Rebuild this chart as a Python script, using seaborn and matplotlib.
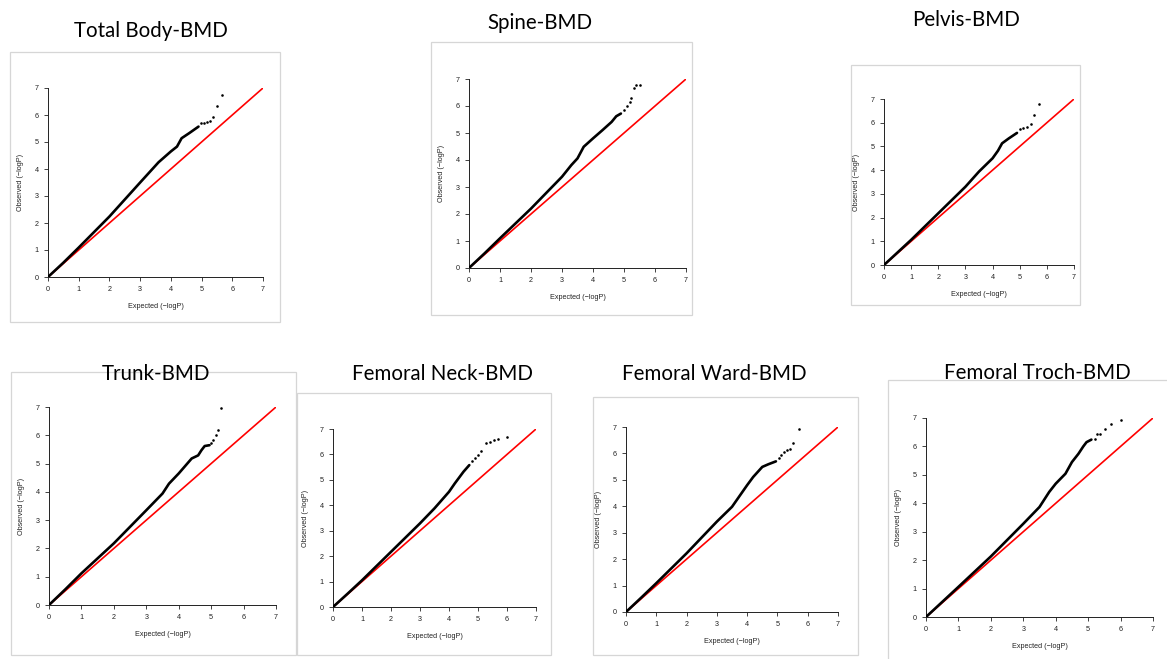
import matplotlib
matplotlib.use("Agg")
import matplotlib.pyplot as plt
from matplotlib.patches import Rectangle
import pandas as pd
import seaborn as sns

# ---------------- data ----------------
titles = ["Total Body-BMD", "Spine-BMD", "Pelvis-BMD", "Trunk-BMD",
          "Femoral Neck-BMD", "Femoral Ward-BMD", "Femoral Troch-BMD"]

tick_values = [0, 1, 2, 3, 4, 5, 6, 7]
ref_line = [0, 7]

# dense body of the QQ cloud (vertices of the black band)
tb_exp = [0, 0.5, 1, 2, 3, 3.6, 4.0, 4.2, 4.35, 4.6, 4.9]
tb_obs = [0, 0.53, 1.09, 2.24, 3.5, 4.25, 4.65, 4.83, 5.14, 5.33, 5.57]
tb_tail_exp = [4.98, 5.08, 5.18, 5.28, 5.38, 5.5, 5.68]
tb_tail_obs = [5.72, 5.72, 5.73, 5.78, 5.92, 6.32, 6.75]

sp_exp = [0, 0.5, 1, 2, 3, 3.3, 3.5, 3.7, 4.0, 4.3, 4.6, 4.75, 4.9]
sp_obs = [0, 0.54, 1.1, 2.2, 3.38, 3.81, 4.06, 4.49, 4.8, 5.1, 5.41, 5.62, 5.72]
sp_tail_exp = [5.01, 5.1, 5.18, 5.24, 5.31, 5.4, 5.53]
sp_tail_obs = [5.84, 5.99, 6.16, 6.28, 6.65, 6.79, 6.79]

pe_exp = [0, 0.5, 1, 2, 3, 3.5, 4.0, 4.2, 4.35, 4.6, 4.9]
pe_obs = [0, 0.53, 1.06, 2.18, 3.3, 3.94, 4.5, 4.82, 5.13, 5.34, 5.57]
pe_tail_exp = [5.0, 5.13, 5.25, 5.4, 5.52, 5.7]
pe_tail_obs = [5.73, 5.76, 5.83, 5.94, 6.34, 6.78]

tr_exp = [0, 0.5, 1, 2, 3, 3.5, 3.7, 4.0, 4.4, 4.6, 4.7, 4.8, 4.95]
tr_obs = [0, 0.55, 1.12, 2.18, 3.35, 3.94, 4.29, 4.65, 5.18, 5.29, 5.47, 5.62, 5.65]
tr_tail_exp = [5.0, 5.07, 5.14, 5.22, 5.29]
tr_tail_obs = [5.73, 5.85, 6.0, 6.18, 6.96]

fn_exp = [0, 0.5, 1, 2, 3, 3.5, 4.0, 4.2, 4.5, 4.7]
fn_obs = [0, 0.52, 1.05, 2.17, 3.29, 3.88, 4.53, 4.86, 5.32, 5.58]
fn_tail_exp = [4.81, 4.9, 5.0, 5.12, 5.29, 5.41, 5.55, 5.7, 6.0]
fn_tail_obs = [5.74, 5.85, 5.98, 6.15, 6.46, 6.5, 6.57, 6.61, 6.7]

fw_exp = [0, 0.5, 1, 2, 3, 3.5, 4.0, 4.2, 4.5, 4.7, 4.95]
fw_obs = [0, 0.54, 1.09, 2.22, 3.42, 3.98, 4.8, 5.11, 5.49, 5.59, 5.7]
fw_tail_exp = [5.04, 5.13, 5.23, 5.31, 5.4, 5.51, 5.7]
fw_tail_obs = [5.83, 5.93, 6.06, 6.12, 6.18, 6.41, 6.91]

ft_exp = [0, 0.5, 1, 2, 3, 3.5, 3.8, 4.0, 4.3, 4.5, 4.7, 4.85, 4.95, 5.1]
ft_obs = [0, 0.53, 1.06, 2.13, 3.28, 3.87, 4.4, 4.69, 5.04, 5.45, 5.74, 6.0, 6.15, 6.24]
ft_tail_exp = [5.2, 5.28, 5.38, 5.51, 5.69, 6.0]
ft_tail_obs = [6.27, 6.45, 6.45, 6.62, 6.78, 6.92]

series = [
    (tb_exp, tb_obs, tb_tail_exp, tb_tail_obs),
    (sp_exp, sp_obs, sp_tail_exp, sp_tail_obs),
    (pe_exp, pe_obs, pe_tail_exp, pe_tail_obs),
    (tr_exp, tr_obs, tr_tail_exp, tr_tail_obs),
    (fn_exp, fn_obs, fn_tail_exp, fn_tail_obs),
    (fw_exp, fw_obs, fw_tail_exp, fw_tail_obs),
    (ft_exp, ft_obs, ft_tail_exp, ft_tail_obs),
]

# ---------------- layout (pixels in the 1167x659 canvas) ----------------
W, H = 1167, 659
# frame (x1, y1, x2, y2), axes (x0px, x7px, y0px, y7px), title (cx, cy)
layout = [
    ((10, 52, 280, 322), (48, 263, 277, 88), (151, 31)),
    ((431, 42, 692, 315), (469, 686, 268, 79), (540, 23)),
    ((851, 65, 1080, 305), (884, 1074, 265, 99), (966, 20)),
    ((11, 372, 296, 655), (49, 276, 605, 407), (156, 374)),
    ((297, 393, 551, 655), (333, 536, 607, 429), (442, 374)),
    ((593, 397, 858, 655), (626, 838, 612, 427), (714, 374)),
    ((888, 380, 1170, 662), (926, 1153, 617, 418), (1037, 373)),
]

sns.set_style("ticks")
plt.rcParams["font.family"] = ["Liberation Sans", "DejaVu Sans"]

fig = plt.figure(figsize=(W / 100, H / 100), dpi=100)
fig.patch.set_facecolor("white")

for title, (ex, ob, tex, tob), (frame, axpx, tpos) in zip(titles, series, layout):
    fx1, fy1, fx2, fy2 = frame
    fig.add_artist(Rectangle((fx1 / W, 1 - fy2 / H), (fx2 - fx1) / W, (fy2 - fy1) / H,
                             transform=fig.transFigure, fill=False,
                             edgecolor="#d6d6d6", linewidth=0.9, zorder=0))
    x0, x7, y0, y7 = axpx
    ax = fig.add_axes([x0 / W, 1 - y0 / H, (x7 - x0) / W, (y0 - y7) / H])
    ax.set_facecolor("none")

    body = pd.DataFrame({"Expected": ex, "Observed": ob})
    tail = pd.DataFrame({"Expected": tex, "Observed": tob})
    ref = pd.DataFrame({"Expected": ref_line, "Observed": ref_line})

    sns.lineplot(data=ref, x="Expected", y="Observed", ax=ax, color="#ff0000",
                 linewidth=1.2, zorder=2, sort=False)
    sns.lineplot(data=body, x="Expected", y="Observed", ax=ax, color="black",
                 linewidth=1.9, zorder=3, sort=False, solid_capstyle="round",
                 solid_joinstyle="round")
    sns.scatterplot(data=tail, x="Expected", y="Observed", ax=ax, color="black",
                    s=3.5, linewidth=0, zorder=4)

    ax.set_xlim(0, 7)
    ax.set_ylim(0, 7)
    ax.set_xticks(tick_values)
    ax.set_yticks(tick_values)
    ax.set_xticklabels([str(t) for t in tick_values])
    ax.set_yticklabels([str(t) for t in tick_values])
    sns.despine(ax=ax)
    for sp in ("left", "bottom"):
        ax.spines[sp].set_linewidth(0.7)
        ax.spines[sp].set_color("#222222")
    ax.tick_params(axis="both", direction="out", length=3, width=0.6,
                   labelsize=5.2, colors="#222222", pad=3.5)
    ax.set_xlabel("Expected (\u2212logP)", fontsize=5.2, color="#222222", labelpad=7)
    ax.set_ylabel("Observed (\u2212logP)", fontsize=5.2, color="#222222", labelpad=8)

    fig.text(tpos[0] / W, 1 - tpos[1] / H, title, ha="center", va="center",
             fontsize=14.8, family=["Lato", "DejaVu Sans"], color="black")

fig.savefig("out.png", dpi=100, facecolor="white")
